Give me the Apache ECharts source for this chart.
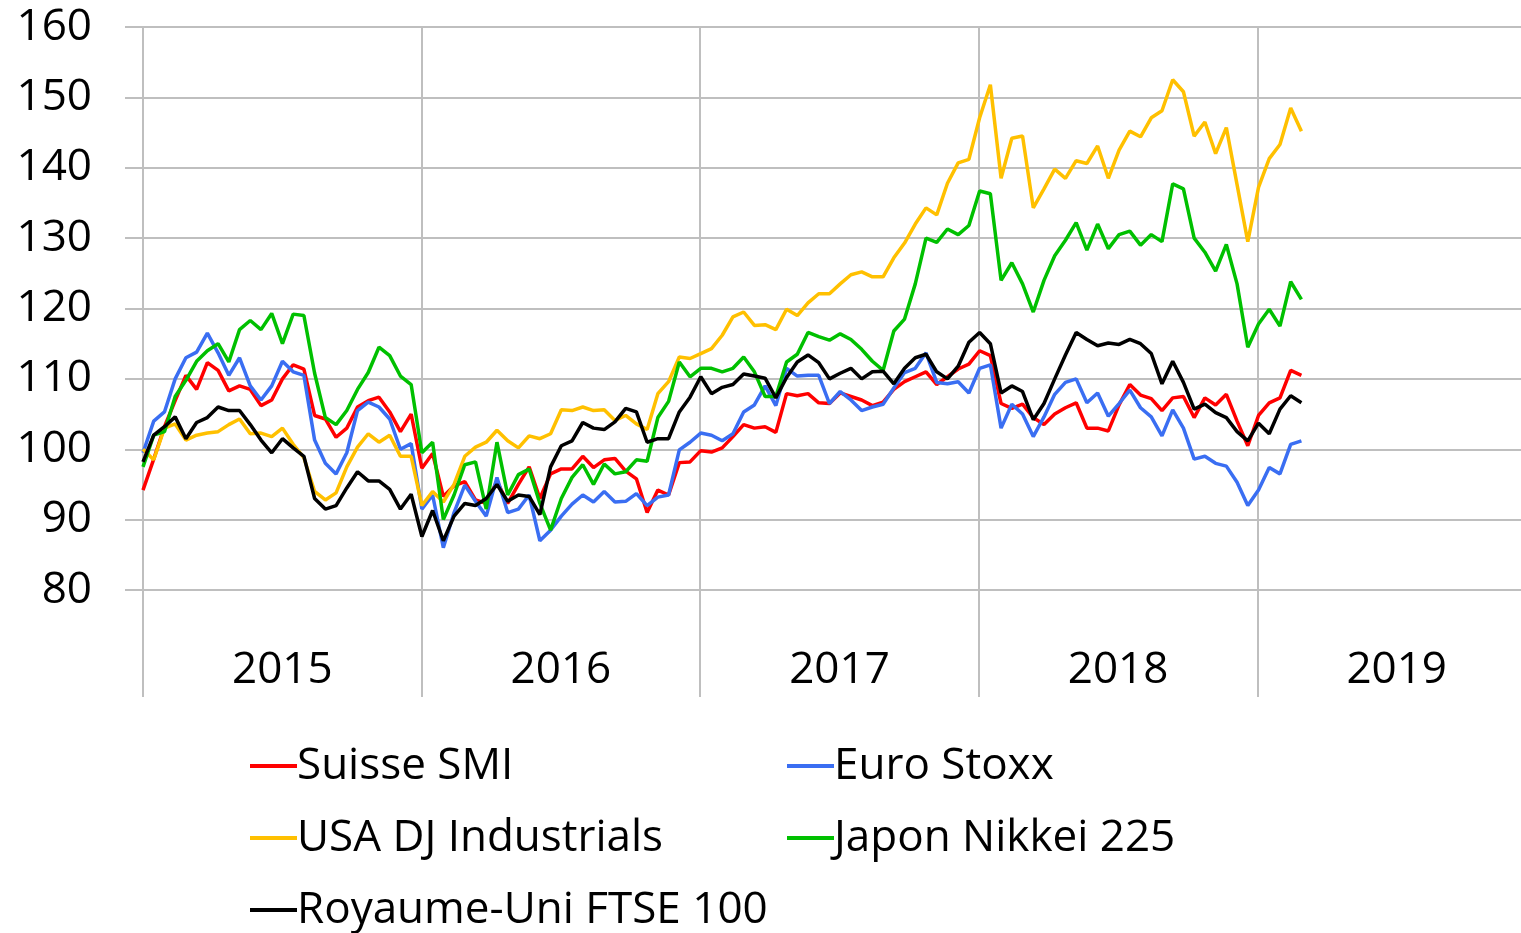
<!DOCTYPE html>
<html>
<head>
<meta charset="utf-8">
<script src="https://cdn.jsdelivr.net/npm/echarts@6/dist/echarts.min.js"></script>
<style>
  html, body { margin: 0; padding: 0; background: #fff; }
  #chart-container { width: 1521px; height: 933px; }
</style>
</head>
<body>
<div id="chart-container"></div>
<script>
// indices hebdo (base 100), un point toutes les ~2 semaines depuis janv. 2015
var years = ['2015', '2016', '2017', '2018', '2019'];
var xStart = 2015;
var xStep = 0.0385; // ~14 jours en fraction d'annee

var smi = [
    94.2, 98.6, 103.2, 106.9, 110.5, 108.5, 112.3, 111.2, 108.3, 109, 108.5, 106.2, 107, 110, 112,
    111.4, 104.8, 104.3, 101.7, 103, 106, 106.9, 107.4, 105.3, 102.5, 105, 97.3, 99.4, 93.3,
    94.8, 95.4, 92.8, 92.3, 95.5, 92.3, 95, 97.5, 93, 96.5, 97.2, 97.2, 99, 97.4,
    98.5, 98.7, 96.9, 95.8, 91, 94.2, 93.5, 98.1, 98.2, 99.8, 99.6, 100.2, 101.8, 103.5,
    103, 103.2, 102.4, 107.9, 107.6, 107.9, 106.6, 106.5, 108, 107.5, 107, 106.2, 106.7, 108.5,
    109.6, 110.3, 111, 109.2, 110.3, 111.4, 112.1, 114, 113.3, 106.5, 105.8, 106.4, 104.5, 103.5,
    105, 105.9, 106.6, 103, 103, 102.6, 106.3, 109.2, 107.7, 107.2, 105.5, 107.3, 107.5, 104.5,
    107.3, 106.3, 107.8, 104, 100.5, 104.8, 106.6, 107.3, 111.2, 110.5
];
var euroStoxx = [
    99.5, 104, 105.3, 110, 113, 113.8, 116.5, 113.7, 110.5, 113, 109, 107, 109, 112.5, 111,
    110.5, 101.3, 98, 96.5, 99.5, 105.5, 106.7, 106, 104.3, 100, 100.8, 91.5, 93.5, 86,
    91, 94.9, 92.6, 90.5, 96, 91, 91.5, 93.5, 87, 88.5, 90.5, 92.2, 93.5, 92.5,
    94, 92.5, 92.6, 93.7, 92, 93.2, 93.5, 99.9, 101, 102.3, 102, 101.2, 102.2, 105.3,
    106.3, 109, 106.2, 111.5, 110.4, 110.5, 110.5, 106.5, 108.2, 107, 105.5, 106, 106.4, 108.7,
    110.9, 111.5, 113.7, 109.5, 109.3, 109.6, 108, 111.5, 112, 103, 106.4, 105, 101.8, 104.6,
    107.8, 109.5, 110, 106.6, 108, 104.7, 106.5, 108.4, 105.9, 104.6, 101.9, 105.6, 103, 98.6,
    99, 98, 97.6, 95.3, 92, 94.2, 97.4, 96.5, 100.7, 101.2
];
var dowJones = [
    100, 98.5, 103, 103.6, 101.3, 102, 102.3, 102.5, 103.5, 104.3, 102.2, 102.3, 101.8, 103, 100.7,
    98.8, 94, 92.8, 93.8, 97.5, 100.3, 102.2, 101, 102, 99, 99, 92, 94, 92.5,
    95, 99, 100.3, 101, 102.7, 101.2, 100.2, 101.9, 101.5, 102.2, 105.6, 105.5, 106, 105.5,
    105.6, 104.1, 104.8, 103.6, 102.8, 107.9, 109.6, 113.1, 112.9, 113.6, 114.3, 116.2, 118.8, 119.5,
    117.6, 117.7, 117, 119.9, 119, 120.8, 122.1, 122.1, 123.5, 124.8, 125.2, 124.5, 124.5, 127.2,
    129.3, 132, 134.3, 133.3, 137.8, 140.7, 141.2, 147.1, 151.8, 138.5, 144.2, 144.5, 134.3, 137,
    139.8, 138.5, 141, 140.6, 143.1, 138.5, 142.5, 145.2, 144.4, 147.1, 148.1, 152.5, 150.8, 144.5,
    146.5, 142, 145.7, 137.6, 129.5, 137.2, 141.3, 143.3, 148.5, 145.2
];
var nikkei = [
    97.5, 102, 102.5, 107.5, 109.8, 112.5, 114, 115, 112.4, 117, 118.3, 117, 119.3, 115, 119.2,
    119, 110.8, 104.5, 103.5, 105.5, 108.5, 110.9, 114.5, 113.3, 110.4, 109.2, 99.5, 101, 90,
    93.5, 97.8, 98.2, 91.5, 101, 93.5, 96.4, 97.2, 92.3, 88.5, 93, 96, 97.8, 95,
    97.9, 96.5, 96.8, 98.5, 98.3, 104.5, 106.8, 112.4, 110.3, 111.5, 111.5, 111, 111.5, 113.1,
    111, 107.5, 107.5, 112.4, 113.5, 116.6, 116, 115.5, 116.4, 115.6, 114.2, 112.5, 111.2, 116.8,
    118.5, 123.5, 130, 129.4, 131.3, 130.5, 131.8, 136.7, 136.3, 124, 126.5, 123.5, 119.5, 124,
    127.5, 129.7, 132.2, 128.3, 132, 128.5, 130.5, 131, 129, 130.5, 129.5, 137.7, 137, 130,
    128, 125.3, 129.1, 123.5, 114.5, 117.8, 119.9, 117.5, 123.8, 121.3
];
var ftse = [
    98.2, 102, 103.2, 104.6, 101.5, 103.8, 104.5, 106, 105.5, 105.5, 103.5, 101.3, 99.5, 101.5, 100.2,
    99, 93, 91.5, 92, 94.5, 96.8, 95.5, 95.5, 94.3, 91.5, 93.6, 87.6, 91.3, 87,
    90.5, 92.3, 92, 93, 95, 92.6, 93.5, 93.3, 90.7, 97.5, 100.5, 101.2, 103.8, 103,
    102.8, 103.9, 105.8, 105.3, 101, 101.5, 101.5, 105.3, 107.4, 110.3, 107.9, 108.8, 109.2, 110.7,
    110.4, 110.1, 107.3, 110.2, 112.4, 113.4, 112.3, 110, 110.8, 111.5, 110, 111, 111.1, 109.3,
    111.5, 113, 113.5, 111, 110, 111.8, 115.2, 116.6, 115, 108, 109, 108.2, 104.2, 106.5,
    110, 113.4, 116.6, 115.6, 114.7, 115.1, 114.9, 115.6, 115, 113.6, 109.3, 112.5, 109.5, 105.7,
    106.4, 105.2, 104.5, 102.5, 101.2, 103.7, 102.2, 105.7, 107.6, 106.6
];

var seriesNames = ['Suisse SMI', 'Euro Stoxx', 'USA DJ Industrials', 'Japon Nikkei 225', 'Royaume-Uni FTSE 100'];
var seriesValues = [smi, euroStoxx, dowJones, nikkei, ftse];
var seriesColors = ['#ff0000', '#3a6ef2', '#ffc000', '#00c000', '#000000'];
// position des entrees de legende (2 colonnes, 3 lignes)
var legendLeft = [250, 787, 250, 787, 250];
var legendTop = [744, 744, 816, 816, 888];

var fontName = '"Open Sans", sans-serif';
var gridColor = '#bfbfbf';

function toPairs(values) {
    var out = [];
    for (var i = 0; i < values.length; i++) {
        out.push([xStart + i * xStep, values[i]]);
    }
    return out;
}

var domChart = document.getElementById('chart-container');
var ioChart = echarts.init(domChart, null, { renderer: 'canvas' });

var _seriesData = [];
var _legends = [];
for (var s = 0; s < seriesNames.length; s++) {
    _seriesData.push({
        name: seriesNames[s],
        type: 'line',
        xAxisIndex: 1,
        symbol: 'none',
        showSymbol: false,
        data: toPairs(seriesValues[s]),
        lineStyle: { width: 3.5, color: seriesColors[s] },
        itemStyle: { color: seriesColors[s] }
    });
    _legends.push({
        left: legendLeft[s],
        top: legendTop[s],
        padding: 0,
        icon: 'rect',
        itemWidth: 47,
        itemHeight: 4,
        selectedMode: false,
        data: [seriesNames[s]],
        textStyle: { fontSize: 44, fontFamily: fontName, color: '#000', lineHeight: 44, padding: [0, 0, 0, -5] }
    });
}

var chartOption = {
    backgroundColor: '#fff',
    animation: false,
    textStyle: { fontFamily: fontName },
    grid: {
        left: 143,
        top: 27,
        right: -15,
        bottom: 343,
        containLabel: false,
        outerBoundsMode: 'none'
    },
    legend: _legends,
    xAxis: [
        {
            type: 'category',
            data: years,
            boundaryGap: true,
            axisLine: { show: false },
            axisTick: { show: true, length: 107, lineStyle: { color: gridColor, width: 2 } },
            axisLabel: { fontSize: 44, margin: 58, color: '#000', fontFamily: fontName },
            splitLine: { show: true, lineStyle: { color: gridColor, width: 2 } }
        },
        {
            type: 'value',
            min: 2015,
            max: 2020,
            show: false
        }
    ],
    yAxis: {
        type: 'value',
        min: 80,
        max: 160,
        interval: 10,
        axisLine: { show: false },
        axisTick: { show: true, length: 18, lineStyle: { color: gridColor, width: 2 } },
        axisLabel: { fontSize: 44, margin: 51, color: '#000', fontFamily: fontName },
        splitLine: { show: true, lineStyle: { color: gridColor, width: 2 } }
    },
    series: _seriesData
};

ioChart.setOption(chartOption);
</script>
</body>
</html>
